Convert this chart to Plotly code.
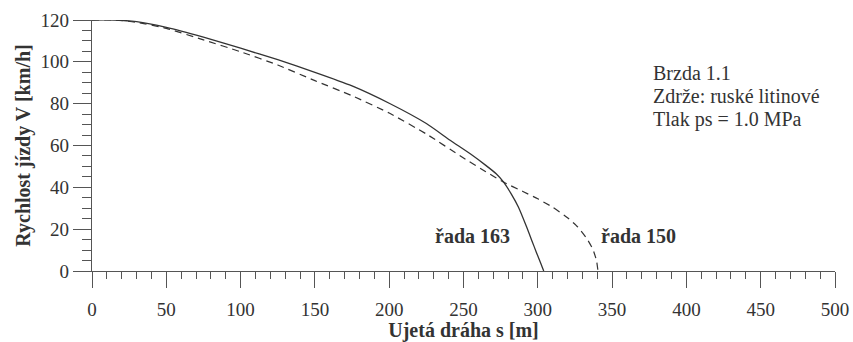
import plotly.graph_objects as go

# Data
s_163 = [0, 15, 30, 50, 75, 100, 125, 150, 175, 200, 225, 241, 255, 265, 272, 277, 282, 287, 292.5, 296, 299, 301.5, 303, 304]
v_163 = [120, 120, 119.2, 116.5, 111.8, 106.5, 101, 95, 88.5, 80.2, 70.5, 62.5, 55.8, 50.5, 46.5, 42.5, 37, 30.5, 21, 14.5, 9, 4.5, 1.8, 0]

s_150 = [0, 15, 30, 50, 75, 100, 125, 150, 175, 200, 225, 250, 265, 277, 290, 300, 310, 320, 327, 333, 337, 339.5, 340.5]
v_150 = [120, 120, 118.9, 116, 110.5, 104.8, 98.5, 91, 83.8, 75.5, 65.5, 54, 47.5, 42.5, 38, 34.5, 30.5, 25.5, 21, 15.5, 10.5, 5, 0]

x_ticks = [0, 50, 100, 150, 200, 250, 300, 350, 400, 450, 500]
y_ticks = [0, 20, 40, 60, 80, 100, 120]

info_lines = ["Brzda 1.1", "Zdrže: ruské litinové", "Tlak ps = 1.0 MPa"]
series_labels = ["řada 163", "řada 150"]

FONT = "Liberation Serif"
INK = "#333333"
AX = "#555555"

fig = go.Figure()
fig.add_trace(go.Scatter(x=s_163, y=v_163, mode="lines",
                         line=dict(color=INK, width=1.3, shape="spline", smoothing=0.5), showlegend=False))
fig.add_trace(go.Scatter(x=s_150, y=v_150, mode="lines",
                         line=dict(color=INK, width=1.2, dash="7px,5px", shape="spline", smoothing=0.5), showlegend=False))

fig.add_annotation(x=256, y=16.5, xref="x", yref="y", text="<b>" + series_labels[0] + "</b>", showarrow=False,
                   font=dict(family=FONT, size=20, color=INK))
fig.add_annotation(x=368, y=16.5, xref="x", yref="y", text="<b>" + series_labels[1] + "</b>", showarrow=False,
                   font=dict(family=FONT, size=20, color=INK))
for i, line in enumerate(info_lines):
    fig.add_annotation(x=376, y=94.6 - i * 11, xref="x", yref="y", text=line, showarrow=False, align="left",
                       xanchor="left", yanchor="middle", font=dict(family=FONT, size=20, color=INK))

axis_common = dict(showgrid=False, zeroline=False, showline=True, linecolor=AX, linewidth=1.2,
                   ticks="outside", tickcolor=AX, tickwidth=1.2, automargin=False,
                   tickfont=dict(family=FONT, size=19, color=INK))
fig.update_xaxes(range=[0, 500], tickvals=x_ticks, ticklen=16, ticklabelstandoff=5,
                 minor=dict(dtick=10, ticks="outside", ticklen=7, tickcolor=AX, tickwidth=1.2),
                 title=dict(text="<b>Ujetá dráha s [m]</b>", font=dict(family=FONT, size=20, color=INK), standoff=0),
                 **axis_common)
fig.update_yaxes(range=[0, 120], tickvals=y_ticks, ticklen=18,
                 minor=dict(dtick=5, ticks="outside", ticklen=9, tickcolor=AX, tickwidth=1.2),
                 title=dict(text="<b>Rychlost jízdy V [km/h]</b>", font=dict(family=FONT, size=20, color=INK), standoff=4),
                 **axis_common)

fig.update_layout(width=853, height=342, margin=dict(l=92, r=18, t=20, b=71),
                  paper_bgcolor="white", plot_bgcolor="white", showlegend=False,
                  font=dict(family=FONT, color=INK))

fig.write_html("out.html")
